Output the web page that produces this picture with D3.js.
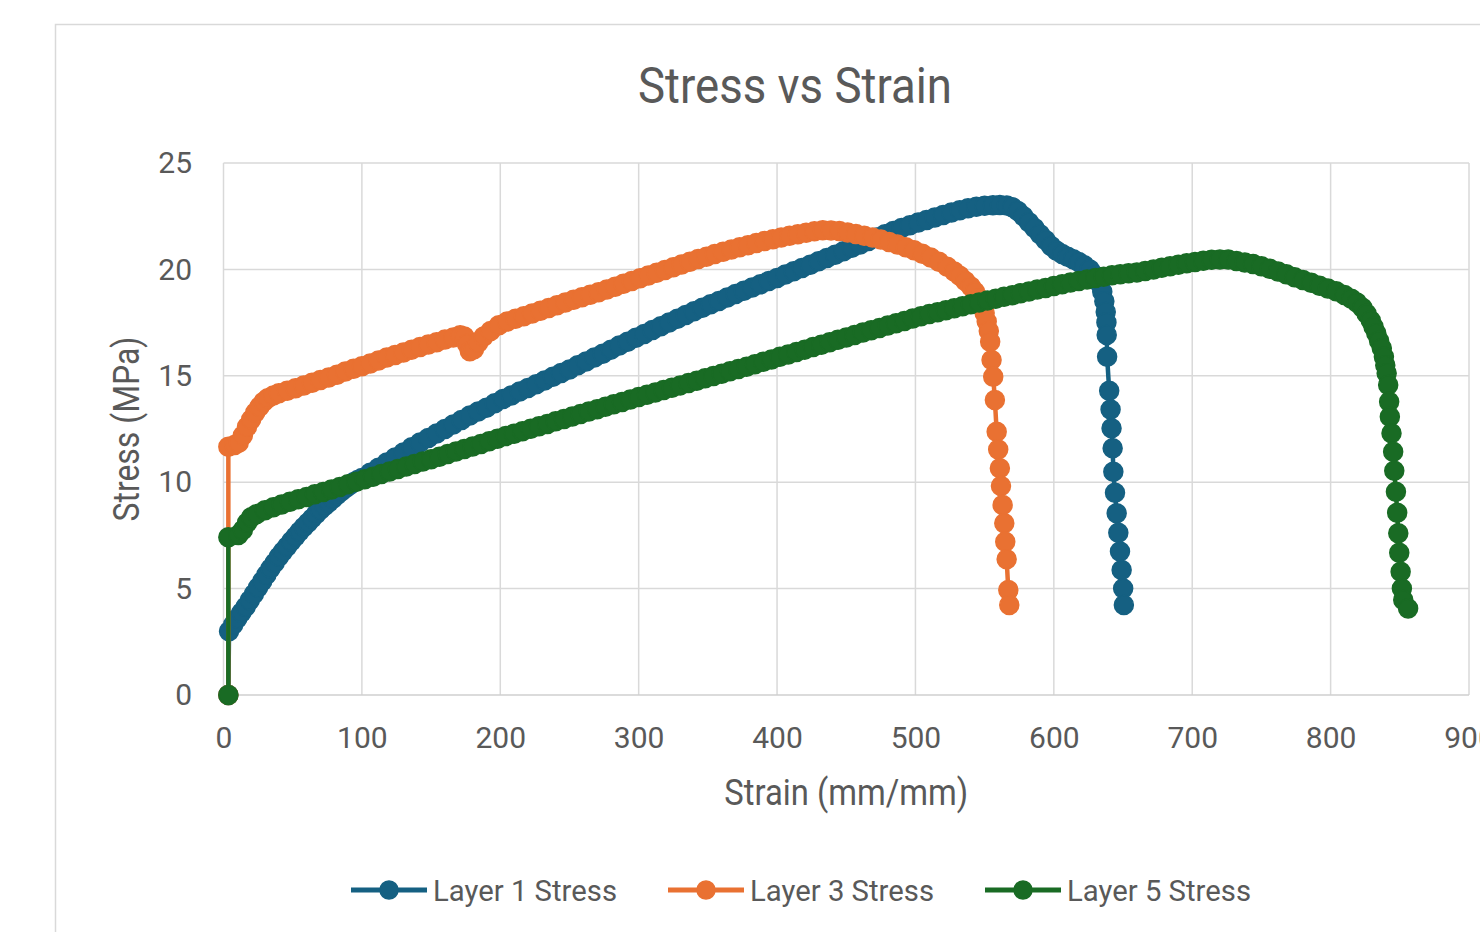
<!DOCTYPE html>
<html>
<head>
<meta charset="utf-8">
<script src="https://cdn.jsdelivr.net/npm/d3@7"></script>
<style>
  html, body { margin: 0; padding: 0; background: #fff; overflow: hidden; }
  svg { display: block; }
  text { font-family: Roboto, "Noto Sans", sans-serif; }
</style>
</head>
<body>
<svg id="chart" width="1480" height="932"></svg>
<script>
// ---- data ----
const xTicks = [0, 100, 200, 300, 400, 500, 600, 700, 800, 900];
const yTicks = [0, 5, 10, 15, 20, 25];
const seriesNames = ['Layer 1 Stress', 'Layer 3 Stress', 'Layer 5 Stress'];

const layer1Strain = [3.5, 4, 7, 10, 13, 16, 19, 22, 25, 28, 31, 34, 37, 40, 43, 46, 49, 52, 55, 58,
  61, 64, 67, 70, 73, 76, 79, 82, 85, 88, 91, 94, 97, 100, 106, 112,
  118, 124, 130, 136, 142, 148, 154, 160, 166, 172, 178, 184, 190, 196, 202, 208, 214, 220, 226, 232,
  238, 244, 250, 256, 262, 268, 274, 280, 286, 292, 298, 304, 310, 316, 322, 328, 334, 340, 346, 352,
  358, 364, 370, 376, 382, 388, 394, 400, 406, 412, 418, 424, 430, 436, 442, 448, 454, 460, 466, 472,
  478, 484, 490, 496, 502, 508, 514, 520, 526, 532, 538, 544, 550, 556, 561, 566, 570, 574, 578, 582,
  586, 590, 594, 598, 602, 606, 610, 614, 618, 622, 626, 630, 633, 635, 636.5, 637.5, 638,
  638.2, 638.5, 640, 641, 641.7, 642.5, 643, 644.2, 645.4, 646.6, 647.8, 649, 650.1, 650.6];
const layer1Stress = [0, 3.0, 3.3, 3.6, 3.88, 4.15, 4.45, 4.75, 5.05, 5.35, 5.65, 5.95, 6.22, 6.5, 6.74, 6.98, 7.22, 7.45, 7.68, 7.9,
  8.1, 8.3, 8.5, 8.7, 8.88, 9.05, 9.22, 9.4, 9.56, 9.72, 9.86, 10.0, 10.1, 10.2, 10.44, 10.68,
  10.92, 11.16, 11.4, 11.64, 11.87, 12.08, 12.29, 12.5, 12.71, 12.92, 13.13, 13.32, 13.5, 13.71, 13.91, 14.08, 14.26, 14.43, 14.6, 14.78,
  14.95, 15.13, 15.3, 15.49, 15.67, 15.86, 16.04, 16.23, 16.42, 16.6, 16.79, 16.97, 17.15, 17.33, 17.5, 17.68, 17.86, 18.03, 18.2, 18.36,
  18.52, 18.68, 18.84, 19.0, 19.15, 19.3, 19.45, 19.6, 19.76, 19.91, 20.07, 20.22, 20.38, 20.54, 20.69, 20.85, 21.02, 21.17, 21.33, 21.5,
  21.65, 21.8, 21.95, 22.08, 22.2, 22.32, 22.44, 22.56, 22.67, 22.78, 22.87, 22.94, 22.99, 23.02, 23.03, 23.0, 22.92, 22.75, 22.5, 22.22,
  21.95, 21.65, 21.38, 21.1, 20.88, 20.72, 20.6, 20.48, 20.35, 20.2, 20.0, 19.7, 19.35, 18.95, 18.5, 18.0, 17.5,
  16.92, 15.9, 14.3, 13.42, 12.53, 11.59, 10.49, 9.51, 8.54, 7.63, 6.74, 5.87, 5.01, 4.23];

const layer3Strain = [3.5, 3.5, 8, 11, 14, 17, 20, 23, 26, 29, 32, 36, 40, 46, 52, 58, 64, 70, 76, 82,
  88, 94, 100, 106, 112, 118, 124, 130, 136, 142, 148, 154, 160, 166, 171, 174, 176, 178, 181, 184,
  188, 193, 199, 205, 211, 217, 223, 229, 235, 241, 247, 253, 259, 265, 271, 277, 283, 289, 295, 301,
  307, 313, 319, 325, 331, 337, 343, 349, 355, 361, 367, 373, 379, 385, 391, 397, 403, 409, 415, 421,
  427, 433, 439, 445, 451, 457, 463, 469, 475, 481, 487, 493, 499, 505, 511, 517, 523, 528, 532, 536,
  540, 543, 546, 548, 550, 551.5, 553, 554, 555, 556.2, 557.4, 558.7, 559.8, 561, 561.8, 563, 564.2, 564.9, 565.9, 567.1,
  567.8];
const layer3Stress = [0, 11.67, 11.75, 11.85, 12.2, 12.6, 12.95, 13.28, 13.55, 13.78, 13.95, 14.08, 14.18, 14.3, 14.41, 14.54, 14.67, 14.8, 14.92, 15.05,
  15.2, 15.33, 15.45, 15.58, 15.72, 15.86, 15.98, 16.1, 16.23, 16.35, 16.47, 16.58, 16.7, 16.8, 16.9, 16.85, 16.5, 16.15, 16.25, 16.55,
  16.85, 17.1, 17.38, 17.55, 17.68, 17.8, 17.93, 18.06, 18.19, 18.32, 18.45, 18.57, 18.69, 18.81, 18.93, 19.06, 19.18, 19.32, 19.45, 19.58,
  19.71, 19.84, 19.97, 20.1, 20.23, 20.36, 20.49, 20.6, 20.72, 20.83, 20.93, 21.04, 21.14, 21.24, 21.33, 21.42, 21.5, 21.58, 21.65, 21.72,
  21.79, 21.84, 21.83, 21.8, 21.73, 21.66, 21.58, 21.5, 21.4, 21.29, 21.17, 21.04, 20.9, 20.74, 20.56, 20.36, 20.12, 19.9, 19.7, 19.45,
  19.2, 18.95, 18.65, 18.35, 17.95, 17.55, 17.1, 16.6, 15.74, 14.96, 13.86, 12.37, 11.54, 10.65, 9.82, 8.93, 8.07, 7.2, 6.38, 4.93,
  4.23];

const layer5Strain = [3.5, 3.5, 10.7, 14, 17, 20, 24, 30, 36, 42, 48, 54, 60, 66, 72, 78, 84, 90, 96, 102,
  108, 114, 120, 126, 132, 138, 144, 150, 156, 162, 168, 174, 180, 186, 192, 198, 204, 210, 216, 222,
  228, 234, 240, 246, 252, 258, 264, 270, 276, 282, 288, 294, 300, 306, 312, 318, 324, 330, 336, 342,
  348, 354, 360, 366, 372, 378, 384, 390, 396, 402, 408, 414, 420, 426, 432, 438, 444, 450, 456, 462,
  468, 474, 480, 486, 492, 498, 504, 510, 516, 522, 528, 534, 540, 546, 552, 558, 564, 570, 576, 582,
  588, 594, 600, 606, 612, 618, 624, 630, 636, 642, 648, 654, 660, 666, 672, 678, 684, 690, 696, 702,
  708, 714, 720, 726, 732, 738, 744, 750, 756, 762, 768, 774, 780, 786, 792, 798, 804, 810, 815, 819,
  823, 826, 829, 831, 833, 835, 837, 838.5, 839.5, 840.5, 841.6, 842.3, 842.8, 844, 845.2, 846, 847.2, 848.1, 848.9, 849.6,
  850.6, 851.5, 852.5, 856];
const layer5Stress = [0, 7.41, 7.52, 7.75, 8.1, 8.35, 8.5, 8.68, 8.82, 8.95, 9.08, 9.2, 9.31, 9.43, 9.54, 9.66, 9.78, 9.9, 10.02, 10.14,
  10.26, 10.38, 10.5, 10.62, 10.74, 10.86, 10.97, 11.08, 11.2, 11.32, 11.44, 11.56, 11.68, 11.8, 11.92, 12.04, 12.17, 12.28, 12.4, 12.51,
  12.63, 12.74, 12.86, 12.97, 13.09, 13.2, 13.32, 13.43, 13.55, 13.66, 13.77, 13.89, 14.0, 14.11, 14.22, 14.33, 14.44, 14.55, 14.66, 14.77,
  14.88, 14.99, 15.1, 15.21, 15.32, 15.43, 15.54, 15.66, 15.77, 15.89, 16.0, 16.12, 16.23, 16.35, 16.46, 16.58, 16.69, 16.8, 16.92, 17.03,
  17.14, 17.25, 17.36, 17.47, 17.58, 17.69, 17.8, 17.9, 17.99, 18.08, 18.17, 18.27, 18.36, 18.45, 18.54, 18.62, 18.71, 18.79, 18.88, 18.96,
  19.05, 19.13, 19.22, 19.3, 19.38, 19.46, 19.53, 19.6, 19.66, 19.72, 19.77, 19.82, 19.86, 19.93, 20.0, 20.08, 20.15, 20.22, 20.29, 20.35,
  20.41, 20.45, 20.47, 20.46, 20.4, 20.33, 20.25, 20.15, 20.03, 19.9, 19.77, 19.63, 19.5, 19.37, 19.23, 19.1, 18.97, 18.8, 18.62, 18.45,
  18.2, 17.92, 17.6, 17.3, 17.0, 16.65, 16.3, 15.9, 15.5, 15.12, 14.57, 13.78, 13.08, 12.3, 11.43, 10.54, 9.55, 8.57, 7.6, 6.69,
  5.79, 5.01, 4.46, 4.07];

const seriesColors = ['#156082', '#E97132', '#196B24'];
const series = [
  { name: seriesNames[0], pts: d3.zip(layer1Strain, layer1Stress), color: seriesColors[0] },
  { name: seriesNames[1], pts: d3.zip(layer3Strain, layer3Stress), color: seriesColors[1] },
  { name: seriesNames[2], pts: d3.zip(layer5Strain, layer5Stress), color: seriesColors[2] },
];

// ---- layout ----
const textColor = '#595959';
const gridColor = '#d9d9d9';
const plot = { left: 223.5, right: 1469, top: 163, bottom: 695 };

const svg = d3.select('#chart');

// chart area frame (runs off the right and bottom of the picture)
svg.append('rect')
  .attr('x', 55.5).attr('y', 24.5)
  .attr('width', 1500).attr('height', 1000)
  .attr('fill', '#fff')
  .attr('stroke', gridColor)
  .attr('stroke-width', 1.5);

const x = d3.scaleLinear().domain([0, 900]).range([plot.left, plot.right]);
const y = d3.scaleLinear().domain([0, 25]).range([plot.bottom, plot.top]);

// gridlines
svg.append('g')
  .selectAll('line')
  .data(xTicks)
  .join('line')
  .attr('x1', (d) => x(d)).attr('x2', (d) => x(d))
  .attr('y1', plot.top).attr('y2', plot.bottom)
  .attr('stroke', gridColor)
  .attr('stroke-width', 1.5);

svg.append('g')
  .selectAll('line')
  .data(yTicks)
  .join('line')
  .attr('x1', plot.left).attr('x2', plot.right)
  .attr('y1', (d) => y(d)).attr('y2', (d) => y(d))
  .attr('stroke', (d) => (d === 0 ? '#cfcfcf' : gridColor))
  .attr('stroke-width', 1.5);

// tick labels
const styleAxis = (g) => {
  g.select('.domain').remove();
  g.attr('font-size', 30).attr('font-family', 'Roboto, sans-serif').attr('color', textColor);
};

svg.append('g')
  .attr('transform', `translate(0,${plot.bottom})`)
  .call(d3.axisBottom(x).tickValues(xTicks).tickSize(0).tickPadding(32))
  .call(styleAxis);

svg.append('g')
  .attr('transform', `translate(${plot.left},0)`)
  .call(d3.axisLeft(y).tickValues(yTicks).tickSize(0).tickPadding(31.5))
  .call(styleAxis);

// titles
svg.append('text')
  .attr('x', 795).attr('y', 102.5)
  .attr('text-anchor', 'middle')
  .attr('font-size', 50)
  .attr('fill', textColor)
  .attr('textLength', 314)
  .attr('lengthAdjust', 'spacingAndGlyphs')
  .text('Stress vs Strain');

svg.append('text')
  .attr('x', (plot.left + plot.right) / 2).attr('y', 805)
  .attr('text-anchor', 'middle')
  .attr('font-size', 36)
  .attr('fill', textColor)
  .attr('textLength', 244)
  .attr('lengthAdjust', 'spacingAndGlyphs')
  .text('Strain (mm/mm)');

svg.append('text')
  .attr('transform', `translate(139,${(plot.top + plot.bottom) / 2}) rotate(-90)`)
  .attr('text-anchor', 'middle')
  .attr('font-size', 36)
  .attr('fill', textColor)
  .attr('textLength', 185)
  .attr('lengthAdjust', 'spacingAndGlyphs')
  .text('Stress (MPa)');

// series: line then markers, series by series
const line = d3.line()
  .x((d) => x(d[0]))
  .y((d) => y(d[1]));

const markerR = 9.5;

series.forEach((s) => {
  const g = svg.append('g');
  g.append('path')
    .datum(s.pts)
    .attr('d', line)
    .attr('fill', 'none')
    .attr('stroke', s.color)
    .attr('stroke-width', 4.5)
    .attr('stroke-linejoin', 'round');
  g.selectAll('circle')
    .data(s.pts)
    .join('circle')
    .attr('cx', (d) => x(d[0]))
    .attr('cy', (d) => y(d[1]))
    .attr('r', markerR)
    .attr('fill', s.color)
    .attr('stroke', s.color)
    .attr('stroke-width', 1.5);
});

// legend
const legendY = 890;
const legend = svg.append('g')
  .selectAll('g')
  .data(series)
  .join('g')
  .attr('transform', (d, i) => `translate(${351 + i * 317},${legendY})`);

legend.append('line')
  .attr('x1', 0).attr('x2', 76)
  .attr('stroke', (d) => d.color)
  .attr('stroke-width', 5);

legend.append('circle')
  .attr('cx', 38)
  .attr('r', 9)
  .attr('fill', (d) => d.color)
  .attr('stroke', (d) => d.color)
  .attr('stroke-width', 1.5);

legend.append('text')
  .attr('x', 82)
  .attr('y', 10.5)
  .attr('font-size', 29)
  .attr('fill', textColor)
  .attr('textLength', 184)
  .attr('lengthAdjust', 'spacingAndGlyphs')
  .text((d) => d.name);
</script>
</body>
</html>
